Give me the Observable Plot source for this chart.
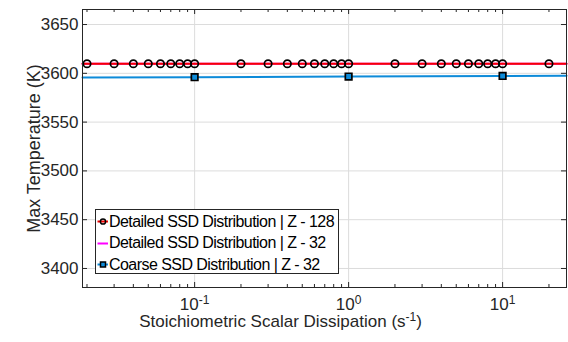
<!DOCTYPE html>
<html><head><meta charset="utf-8">
<script src="https://cdn.jsdelivr.net/npm/d3@7"></script>
<script src="https://cdn.jsdelivr.net/npm/@observablehq/plot@0.6"></script>
<style>
body{margin:0;background:#fff;}
#wrap{position:relative;width:568px;height:342px;font-family:"Liberation Sans",Arial,Helvetica,sans-serif;}
#legend{position:absolute;left:95px;top:209px;height:65px;border:1px solid #262626;background:#fff;font-size:16px;letter-spacing:-0.55px;color:#000;padding:1px 4px 0 0;box-sizing:border-box;}
.row{display:flex;align-items:center;height:21.5px;white-space:nowrap;}
.row svg{flex:none;margin-right:1px;}
</style></head><body><div id="wrap"></div>
<script>
// ---- data ----
const xDetailed = [0.02,0.03,0.04,0.05,0.06,0.07,0.08,0.09,0.1,0.2,0.3,0.4,0.5,0.6,0.7,0.8,0.9,1,2,3,4,5,6,7,8,9,10,20];
const yDetailed128 = [3609.8,3609.8,3609.8,3609.8,3609.8,3609.8,3609.8,3609.8,3609.8,3609.8,3609.8,3609.8,3609.8,3609.8,3609.8,3609.8,3609.8,3609.8,3609.8,3609.8,3609.8,3609.8,3609.8,3609.8,3609.8,3609.8,3609.8,3609.8];
// line traces extend across the whole axis
const xLine128 = [0.0187,0.02,20,26];
const yLine128 = [3609.8,3609.8,3609.8,3609.8];
const xLine32 = [0.0187,0.02,20,26];
const yLine32 = [3609.7,3609.7,3609.7,3609.7];
const xCoarse = [0.1,1,10];
const yCoarse = [3596.0,3596.7,3597.3];
const xCoarseLine = [0.0187,0.1,1,10,26];
const yCoarseLine = [3595.8,3596.0,3596.7,3597.3,3597.5];
const xTicks = [0.1,1,10];
const xMinor = [0.02,0.03,0.04,0.05,0.06,0.07,0.08,0.09,0.2,0.3,0.4,0.5,0.6,0.7,0.8,0.9,2,3,4,5,6,7,8,9,20];
const yTicks = [3400,3450,3500,3550,3600,3650];
const legendLabels = ["Detailed SSD Distribution | Z - 128","Detailed SSD Distribution | Z - 32","Coarse SSD Distribution | Z - 32"];
const xLabel = "Stoichiometric Scalar Dissipation (s^-1)";
const yLabel = "Max Temperature (K)";

const RED = "#f50000", MAG = "#ff00ff", BLUE = "#0d8bd9", AX = "#262626";
const W = 568, H = 342, ML = 82, MR = 2, MT = 9, MB = 55;
const PW = W - ML - MR, PH = H - MT - MB;
const FONT = '"Liberation Sans", Arial, Helvetica, sans-serif';

const pts = (xs, ys) => xs.map((x, i) => ({x, y: ys[i]}));

const svg = Plot.plot({
  width: W, height: H,
  marginLeft: ML, marginRight: MR, marginTop: MT, marginBottom: MB,
  style: {fontFamily: FONT, fontSize: "17px", color: AX, background: "#fff"},
  x: {type: "log", domain: [0.0187, 26]},
  y: {domain: [3380.5, 3665.4]},
  marks: [
    Plot.gridX(xTicks, {stroke: "#dcdcdc", strokeOpacity: 1}),
    Plot.gridY(yTicks, {stroke: "#dcdcdc", strokeOpacity: 1}),
    Plot.line(pts(xLine32, yLine32), {x: "x", y: "y", stroke: MAG, strokeWidth: 2}),
    Plot.line(pts(xLine128, yLine128), {x: "x", y: "y", stroke: RED, strokeWidth: 2}),
    Plot.line(pts(xCoarseLine, yCoarseLine), {x: "x", y: "y", stroke: BLUE, strokeWidth: 2}),
    Plot.dot(pts(xDetailed, yDetailed128), {x: "x", y: "y", r: 3.7, stroke: "#000", strokeWidth: 1.7, fill: "none"}),
    Plot.dot(pts(xCoarse, yCoarse), {x: "x", y: "y", symbol: "square", r: 3.7, stroke: "#000", strokeWidth: 1.7, fill: BLUE}),
    // ticks (inward, on all four sides)
    Plot.tickX(xTicks, {x: d => d, stroke: AX, insetTop: PH - 5}),
    Plot.tickX(xTicks, {x: d => d, stroke: AX, insetBottom: PH - 5}),
    Plot.tickX(xMinor, {x: d => d, stroke: AX, insetTop: PH - 3}),
    Plot.tickX(xMinor, {x: d => d, stroke: AX, insetBottom: PH - 3}),
    Plot.tickY(yTicks, {y: d => d, stroke: AX, insetRight: PW - 5}),
    Plot.tickY(yTicks, {y: d => d, stroke: AX, insetLeft: PW - 5}),
    Plot.axisX(xTicks, {tickSize: 0, tickPadding: 10, fontSize: 17, tickFormat: d => "10^" + Math.round(Math.log10(d)), label: null, fill: AX}),
    Plot.axisY(yTicks, {tickSize: 0, tickPadding: 4, fontSize: 17, tickFormat: d => String(d),
      label: yLabel, labelAnchor: "center", labelArrow: "none", labelOffset: 55, fill: AX}),
    Plot.text([xLabel], {frameAnchor: "bottom", dx: -44, dy: 39.5, fontSize: 17, fill: AX}),
    Plot.frame({stroke: AX, strokeWidth: 1})
  ]
});

// y label font size
d3.select(svg).selectAll("text").filter(function() { return this.textContent === yLabel; }).attr("font-size", "18px");

// superscripts
d3.select(svg).selectAll("text").each(function() {
  const t = d3.select(this);
  const s = this.textContent;
  if (!s.includes("^")) return;
  const m = s.match(/^(.*)\^(-?\d+)(.*)$/);
  if (!m) return;
  t.selectAll("*").remove();
  t.text(null);
  t.append("tspan").text(m[1]);
  t.append("tspan").attr("dy", "-6").attr("font-size", "12px").text(m[2]);
  if (m[3]) t.append("tspan").attr("dy", "6").text(m[3]);
});

const wrap = document.getElementById("wrap");
wrap.appendChild(svg);

// legend
const leg = document.createElement("div");
leg.id = "legend";
const kinds = [{line: RED, sym: "circle", fill: "none"}, {line: MAG, sym: null}, {line: BLUE, sym: "square", fill: BLUE}];
legendLabels.forEach((lab, i) => {
  const k = kinds[i];
  const row = document.createElement("div");
  row.className = "row";
  let sym = "";
  if (k.sym === "circle") sym = `<circle cx="7" cy="10.5" r="2.6" fill="none" stroke="#000" stroke-width="1.5"/>`;
  if (k.sym === "square") sym = `<rect x="4.5" y="8" width="5" height="5" fill="${k.fill}" stroke="#000" stroke-width="1.5"/>`;
  row.innerHTML = `<svg width="12" height="21"><line x1="1.5" x2="12" y1="10.5" y2="10.5" stroke="${k.line}" stroke-width="2"/>${sym}</svg><span>${lab}</span>`;
  leg.appendChild(row);
});
wrap.appendChild(leg);
</script>
</body></html>
